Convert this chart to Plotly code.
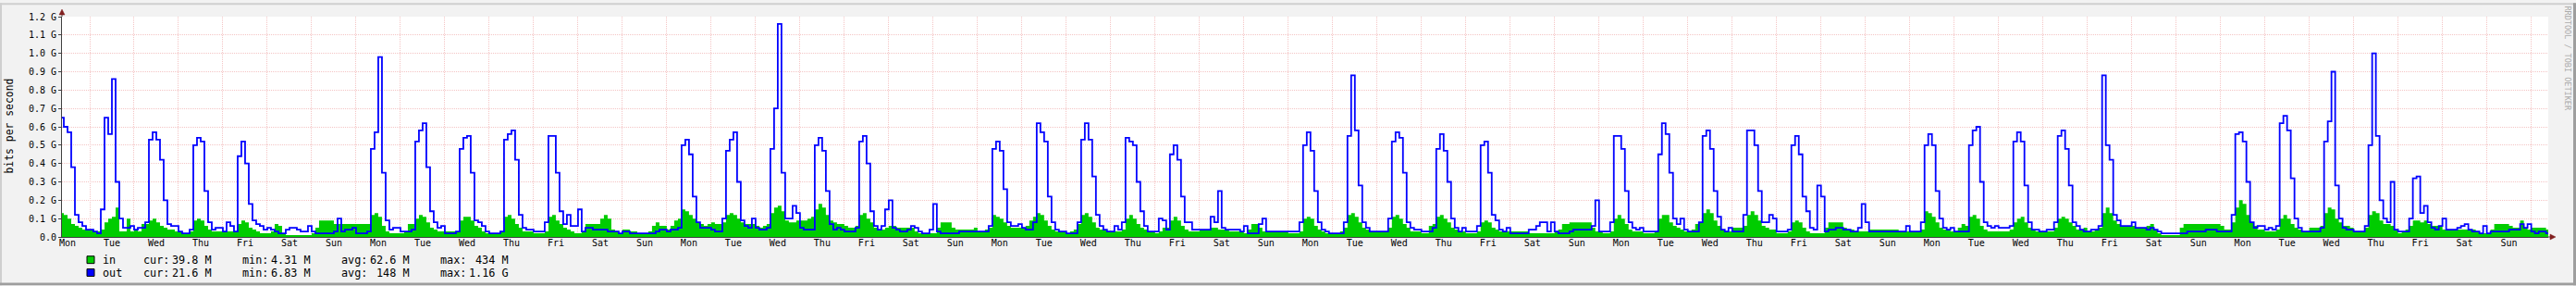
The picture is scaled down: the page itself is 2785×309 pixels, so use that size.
import plotly.graph_objects as go

# ---------------- data (values in units of 0.01 Gbit/s, 2-hour bins starting Monday 00:00) -------------
DAYS = ["Mon", "Tue", "Wed", "Thu", "Fri", "Sat", "Sun"]
Y_TICKS = [i / 10 for i in range(13)]
Y_TICK_TEXT = ["0.0"] + ["%.1f G" % v for v in Y_TICKS[1:]]

out_w1 = [None, None, None, None, 65, 60, 57, 38, 12, 8, 6, 4,
          4, 3, 2, 15, 65, 56, 86, 30, 10, 5, 5, 6,
          4, 5, 5, 8, 53, 57, 53, 42, 20, 7, 6, 6,
          3, 2, 2, 4, 50, 54, 52, 25, 8, 4, 5, 5,
          3, 8, 6, 3, 44, 52, 40, 18, 9, 7, 6, 4,
          5, 4, 3, 2, 2, 4, 5, 5, 4, 3, 3, 6,
          3, 2, 2, 2, 2, 2, 3, 10, 3, 4, 4, 5]
in_w1 = [None, None, None, None, 13, 12, 10, 7, 6, 5, 4, 4,
         4, 3, 3, 4, 8, 10, 11, 16, 3, 3, 10, 3,
         4, 3, 7, 7, 9, 10, 8, 6, 5, 4, 4, 3,
         3, 2, 2, 3, 9, 10, 9, 6, 4, 3, 3, 3,
         3, 3, 3, 3, 7, 9, 8, 5, 4, 3, 2, 2,
         2, 3, 7, 6, 2, 1, 1, 1, 1, 1, 1, 1,
         2, 5, 9, 9, 9, 9, 7, 7, 7, 7, 7, 7]

out_w2 = [2, 2, 2, 3, 48, 57, 98, 35, 9, 4, 5, 5,
          3, 3, 3, 4, 52, 58, 62, 38, 14, 8, 5, 6,
          2, 2, 2, 3, 48, 54, 55, 35, 9, 8, 6, 3,
          2, 2, 2, 3, 53, 56, 58, 42, 12, 5, 4, 4,
          3, 3, 3, 8, 55, 55, 35, 14, 7, 12, 6, 6,
          15, 3, 5, 5, 4, 4, 4, 4, 3, 3, 3, 2,
          3, 3, 2, 2, 2, 2, 2, 2, 2, 3, 4, 4]
in_w2 = [7, 7, 7, 7, 12, 13, 11, 6, 3, 2, 2, 2,
         2, 3, 7, 7, 10, 12, 11, 8, 5, 4, 3, 3,
         3, 3, 3, 3, 9, 11, 11, 9, 6, 5, 3, 2,
         2, 2, 2, 3, 11, 12, 10, 7, 5, 3, 3, 3,
         2, 2, 2, 3, 11, 12, 9, 7, 5, 4, 3, 2,
         2, 3, 7, 7, 7, 7, 10, 12, 10, 4, 3, 2,
         4, 4, 3, 3, 2, 2, 2, 3, 6, 8, 6, 6]

out_w3 = [3, 4, 4, 5, 50, 53, 45, 22, 8, 5, 5, 5,
          4, 3, 3, 10, 47, 53, 57, 30, 9, 6, 5, 10,
          5, 4, 4, 5, 48, 70, 116, 35, 10, 10, 17, 13,
          5, 4, 4, 4, 50, 54, 47, 25, 7, 4, 5, 4,
          3, 3, 3, 5, 52, 55, 40, 14, 6, 4, 6, 15,
          20, 5, 4, 3, 3, 4, 6, 5, 3, 2, 2, 4,
          18, 3, 2, 2, 2, 2, 2, 3, 3, 3, 3, 3]
in_w3 = [4, 6, 9, 10, 15, 14, 12, 10, 8, 7, 6, 7,
         8, 7, 7, 8, 12, 13, 12, 10, 8, 7, 7, 7,
         6, 5, 6, 7, 13, 16, 17, 14, 9, 8, 8, 9,
         9, 9, 10, 11, 15, 18, 16, 12, 9, 8, 7, 7,
         6, 5, 5, 6, 12, 13, 10, 8, 5, 4, 4, 5,
         6, 6, 5, 5, 5, 5, 5, 3, 2, 2, 2, 2,
         2, 5, 8, 8, 8, 5, 4, 4, 4, 4, 4, 5]

out_w4 = [3, 3, 3, 6, 48, 52, 47, 26, 8, 6, 6, 7,
          5, 4, 4, 8, 62, 57, 52, 22, 8, 4, 3, 3,
          2, 2, 2, 8, 53, 62, 53, 33, 12, 6, 4, 3,
          3, 6, 4, 8, 54, 52, 50, 30, 14, 6, 3, 3,
          3, 10, 9, 4, 45, 50, 42, 22, 8, 8, 4, 4,
          4, 4, 4, 11, 8, 25, 5, 4, 4, 4, 4, 3,
          6, 2, 2, 2, 7, 10, 3, 3, 3, 3, 3, 3]
in_w4 = [3, 3, 4, 5, 12, 11, 10, 8, 6, 5, 5, 5,
         5, 6, 9, 11, 13, 12, 9, 6, 4, 3, 3, 3,
         2, 3, 4, 7, 12, 13, 11, 8, 5, 4, 4, 3,
         3, 3, 3, 4, 10, 12, 10, 7, 5, 4, 3, 3,
         2, 3, 5, 5, 9, 11, 9, 6, 4, 3, 3, 3,
         4, 4, 4, 5, 5, 4, 4, 4, 3, 3, 3, 3,
         2, 4, 7, 7, 5, 3, 3, 3, 3, 3, 3, 3]

out_w5 = [3, 3, 3, 8, 50, 57, 47, 25, 8, 4, 3, 2,
          2, 2, 2, 8, 55, 88, 58, 28, 8, 5, 3, 3,
          3, 3, 3, 10, 52, 57, 54, 35, 8, 5, 4, 4,
          3, 3, 3, 5, 48, 56, 47, 30, 10, 5, 3, 5,
          3, 3, 3, 6, 50, 52, 35, 12, 9, 4, 3, 5,
          2, 2, 2, 2, 2, 4, 4, 6, 8, 8, 3, 8,
          3, 2, 2, 2, 3, 4, 4, 4, 4, 4, 6, 20]
in_w5 = [2, 2, 2, 3, 10, 11, 10, 6, 4, 3, 2, 2,
         2, 2, 3, 5, 12, 13, 11, 8, 5, 4, 3, 3,
         3, 3, 3, 5, 11, 12, 10, 7, 5, 3, 3, 3,
         2, 2, 6, 7, 11, 12, 10, 8, 5, 4, 3, 3,
         2, 2, 2, 3, 8, 9, 8, 5, 4, 3, 3, 3,
         3, 3, 3, 3, 3, 2, 2, 2, 2, 2, 2, 2,
         3, 4, 7, 7, 8, 8, 8, 8, 8, 8, 5, 3]

out_w6 = [3, 3, 3, 8, 55, 55, 48, 25, 8, 5, 4, 5,
          3, 3, 3, 3, 45, 62, 56, 35, 10, 7, 10, 4,
          3, 3, 3, 8, 55, 58, 48, 25, 11, 4, 3, 5,
          3, 3, 3, 12, 58, 58, 50, 25, 8, 8, 12, 10,
          3, 3, 3, 4, 50, 55, 45, 22, 14, 5, 4, 28,
          22, 3, 4, 4, 5, 5, 4, 4, 3, 3, 5, 18,
          8, 3, 3, 3, 3, 3, 3, 3, 3, 3, 3, 6]
in_w6 = [3, 2, 2, 3, 10, 12, 10, 7, 4, 3, 3, 3,
         2, 2, 2, 3, 10, 12, 12, 8, 6, 5, 4, 3,
         3, 4, 7, 8, 13, 15, 13, 9, 6, 4, 3, 3,
         5, 5, 5, 6, 12, 14, 12, 9, 6, 5, 4, 4,
         2, 2, 2, 3, 8, 9, 8, 5, 3, 2, 2, 2,
         2, 5, 8, 8, 8, 8, 5, 4, 4, 3, 3, 3,
         3, 4, 4, 4, 4, 4, 4, 4, 4, 3, 3, 3]

out_w7 = [3, 3, 3, 8, 50, 56, 50, 25, 10, 5, 4, 5,
          3, 3, 3, 3, 50, 58, 60, 30, 8, 6, 5, 6,
          5, 5, 5, 6, 52, 57, 52, 28, 8, 4, 4, 3,
          3, 4, 4, 8, 55, 58, 48, 28, 8, 6, 4, 3,
          3, 4, 4, 6, 88, 50, 42, 12, 9, 6, 6, 6,
          8, 5, 5, 5, 4, 5, 4, 3, 2, 2, 2, 2,
          2, 2, 2, 3, 3, 3, 3, 3, 4, 4, 4, 3]
in_w7 = [3, 3, 3, 4, 14, 13, 11, 8, 5, 4, 4, 3,
         3, 5, 7, 6, 11, 12, 10, 6, 4, 3, 3, 3,
         3, 3, 3, 4, 8, 10, 11, 8, 5, 4, 3, 3,
         3, 3, 3, 5, 10, 11, 10, 8, 6, 4, 4, 5,
         3, 3, 4, 5, 13, 16, 13, 9, 7, 6, 6, 6,
         6, 5, 5, 5, 6, 7, 4, 2, 1, 1, 1, 1,
         1, 5, 7, 7, 7, 7, 7, 7, 7, 7, 7, 7]

out_w8 = [3, 3, 3, 12, 56, 57, 52, 30, 8, 5, 6, 6,
          4, 5, 4, 6, 62, 66, 58, 32, 10, 5, 3, 3,
          3, 3, 3, 5, 52, 63, 90, 28, 10, 5, 4, 4,
          3, 3, 3, 6, 50, 100, 55, 20, 10, 8, 30, 4,
          3, 3, 3, 10, 32, 33, 13, 17, 8, 5, 4, 6,
          10, 4, 4, 4, 5, 6, 7, 4, 3, 3, 2, 6,
          2, 3, 3, 3, 3, 3, 4, 4, 4, 7, 5, 7]
in_w8 = [6, 4, 4, 8, 16, 20, 18, 12, 8, 6, 4, 4,
         3, 3, 3, 4, 10, 12, 10, 7, 5, 4, 3, 3,
         5, 5, 5, 6, 13, 16, 15, 10, 8, 6, 6, 5,
         3, 3, 3, 5, 12, 14, 13, 9, 7, 7, 6, 4,
         2, 3, 4, 6, 9, 9, 8, 9, 7, 6, 6, 6,
         4, 4, 4, 4, 4, 4, 4, 4, 4, 3, 2, 2,
         2, 4, 7, 7, 7, 7, 6, 5, 5, 9, 5, 4]

out_w9 = [3, 2, 3, 3, 2]
in_w9 = [5, 5, 5, 5, 4]

LEGEND_NAMES = ["in", "out"]
LEGEND_KEYS = ["cur:", "min:", "avg:", "max:"]
LEGEND_IN = ["39.8 M", "4.31 M", "62.6 M", "434 M"]
LEGEND_OUT = ["21.6 M", "6.83 M", "148 M", "1.16 G"]

# ---------------- layout geometry -------------
W, H = 2785, 309
L, R, T, B = 67, 30, 15, 53
PW = W - L - R
PH = H - T - B
STEP_H = 2
X_START, X_END = 9, 1353.2
CHAR_W = 7.13
LEG_X0 = 109
LEG_COLS = [153, 260, 367, 474]
LEG_ROWS = [281, 295]


def px(x):
    return (x - L) / PW


def py(y):
    return (H - B - y) / PH


def series(weeks):
    flat = [v for w in weeks for v in w]
    xs, ys = [], []
    for i, v in enumerate(flat):
        if v is None:
            continue
        xs.append(i * STEP_H)
        ys.append(v / 100.0)
    xs.append(len(flat) * STEP_H)
    ys.append(ys[-1])
    return xs, ys


x_in, y_in = series([in_w1, in_w2, in_w3, in_w4, in_w5, in_w6, in_w7, in_w8, in_w9])
x_out, y_out = series([out_w1, out_w2, out_w3, out_w4, out_w5, out_w6, out_w7, out_w8, out_w9])

GREEN = "#00CC00"
BLUE = "#0000FF"
GRID = "#F4C4C4"
AXIS = "#404040"
MONO = "DejaVu Sans Mono"

fig = go.Figure()
fig.add_trace(go.Scatter(x=x_in, y=y_in, mode="lines", line=dict(shape="hv", width=0, color=GREEN),
                         fill="tozeroy", fillcolor=GREEN, hoverinfo="skip"))
fig.add_trace(go.Scatter(x=x_out, y=y_out, mode="lines", line=dict(shape="hv", width=1.8, color=BLUE),
                         hoverinfo="skip"))

n_days = 57
noon = [12 + 24 * d for d in range(n_days)]
noon_text = [DAYS[d % 7] for d in range(n_days)]
midnights = [24 * d for d in range(1, n_days)]

fig.update_layout(
    width=W, height=H,
    margin=dict(l=L, r=R, t=T, b=B, pad=0),
    paper_bgcolor="#F2F2F2", plot_bgcolor="#FFFFFF",
    showlegend=False,
    xaxis=dict(range=[X_START, X_END], tickmode="array", tickvals=noon, ticktext=noon_text,
               showgrid=False, zeroline=False, ticks="", showline=True, linecolor=AXIS, linewidth=1,
               tickfont=dict(family=MONO, size=10, color="#000000"), ticklabelstandoff=-3,
               minor=dict(tickmode="array", tickvals=midnights, showgrid=True, gridcolor=GRID,
                          griddash="1px,1px", gridwidth=1, ticks="")),
    yaxis=dict(range=[0, 1.2], tickmode="array", tickvals=Y_TICKS, ticktext=Y_TICK_TEXT,
               showgrid=True, gridcolor=GRID, griddash="1px,1px", gridwidth=1, zeroline=False,
               ticks="outside", ticklen=3, tickcolor=AXIS, showline=True, linecolor=AXIS, linewidth=1,
               tickfont=dict(family=MONO, size=10, color="#000000")),
)

shapes = []
# frame shading
shapes.append(dict(type="rect", xref="paper", yref="paper", x0=px(0), x1=px(W), y0=py(0), y1=py(2),
                   fillcolor="#CFCFCF", line=dict(width=0)))
shapes.append(dict(type="rect", xref="paper", yref="paper", x0=px(0), x1=px(2), y0=py(0), y1=py(H),
                   fillcolor="#CFCFCF", line=dict(width=0)))
shapes.append(dict(type="rect", xref="paper", yref="paper", x0=px(0), x1=px(W), y0=py(H - 3), y1=py(H),
                   fillcolor="#9E9E9E", line=dict(width=0)))
shapes.append(dict(type="rect", xref="paper", yref="paper", x0=px(W - 3), x1=px(W), y0=py(0), y1=py(H),
                   fillcolor="#9E9E9E", line=dict(width=0)))
# axis extensions and arrows
shapes.append(dict(type="line", xref="paper", yref="paper", x0=px(L), x1=px(L), y0=py(T), y1=py(10),
                   line=dict(color=AXIS, width=1)))
shapes.append(dict(type="line", xref="paper", yref="paper", x0=px(W - R), x1=px(2758), y0=py(H - B), y1=py(H - B),
                   line=dict(color=AXIS, width=1)))
ARROW = "#801F1F"
shapes.append(dict(type="path", xref="paper", yref="paper",
                   path="M %f,%f L %f,%f L %f,%f Z" % (px(L - 3), py(13), px(L + 3), py(13), px(L), py(7)),
                   fillcolor=ARROW, line=dict(color=ARROW, width=0.5)))
shapes.append(dict(type="path", xref="paper", yref="paper",
                   path="M %f,%f L %f,%f L %f,%f Z" % (px(2757), py(H - B - 3), px(2757), py(H - B + 3),
                                                     px(2763), py(H - B)),
                   fillcolor=ARROW, line=dict(color=ARROW, width=0.5)))
# legend swatches
for yy, col in ((277, GREEN), (291, BLUE)):
    shapes.append(dict(type="rect", xref="paper", yref="paper", x0=px(94), x1=px(102), y0=py(yy), y1=py(yy + 8),
                       fillcolor=col, line=dict(color="#000000", width=1)))
fig.update_layout(shapes=shapes)

LEG_FONT = dict(family=MONO, size=11.8, color="#000")
annotations = [
    dict(xref="paper", yref="paper", x=px(10), y=py(135), text="bits per second", textangle=-90,
         showarrow=False, xanchor="center", yanchor="middle", font=dict(family=MONO, size=11.4, color="#000")),
    dict(xref="paper", yref="paper", x=px(2776), y=py(60), text="RRDTOOL / TOBI OETIKER", textangle=90,
         showarrow=False, xanchor="center", yanchor="middle", font=dict(family=MONO, size=8.5, color="#ABABAB")),
]
for name, vals, yrow in ((LEGEND_NAMES[0], LEGEND_IN, LEG_ROWS[0]), (LEGEND_NAMES[1], LEGEND_OUT, LEG_ROWS[1])):
    annotations.append(dict(xref="paper", yref="paper", x=px(LEG_X0), y=py(yrow), text=name, showarrow=False,
                            xanchor="left", yanchor="middle", font=LEG_FONT))
    for key, val, cx in zip(LEGEND_KEYS, vals, LEG_COLS):
        annotations.append(dict(xref="paper", yref="paper", x=px(cx), y=py(yrow), text=key, showarrow=False,
                                xanchor="left", yanchor="middle", font=LEG_FONT))
        annotations.append(dict(xref="paper", yref="paper", x=px(cx + 11 * CHAR_W), y=py(yrow), text=val,
                                showarrow=False, xanchor="right", yanchor="middle", font=LEG_FONT))
fig.update_layout(annotations=annotations)

fig.write_html("out.html", include_plotlyjs=True, full_html=True, config={"displayModeBar": False})
